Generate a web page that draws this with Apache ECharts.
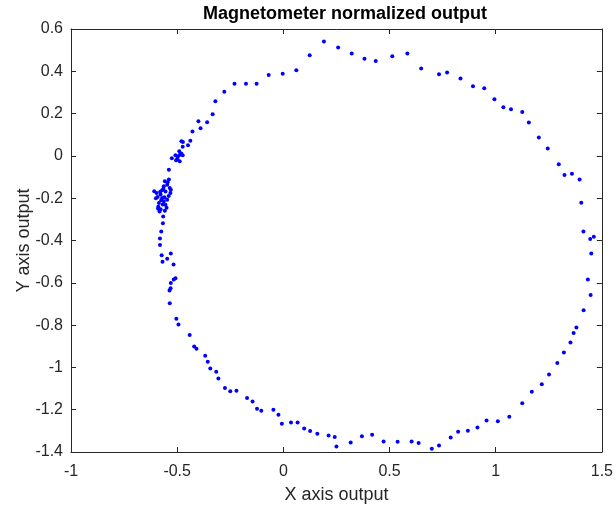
<!DOCTYPE html>
<html>
<head>
<meta charset="utf-8">
<script src="https://cdn.jsdelivr.net/npm/echarts@6/dist/echarts.min.js"></script>
<style>
  html, body { margin: 0; padding: 0; background: #fff; }
  #main { width: 616px; height: 509px; }
</style>
</head>
<body>
<div id="main"></div>
<script>
// 磁力计归一化输出 数据
var xTicks = [-1, -0.5, 0, 0.5, 1, 1.5];
var yTicks = [-1.4, -1.2, -1, -0.8, -0.6, -0.4, -0.2, 0, 0.2, 0.4, 0.6];

var xData = [
  0.191, 0.258, 0.322, 0.382, 0.435, 0.513, 0.584, 0.649, 0.733, 0.771,
  0.834, 0.893, 0.946, 0.994, 1.036, 1.072, 1.125, 1.156, 1.203, 1.245,
  1.297, 1.324, 1.359, 1.395, 1.403, 1.413, 1.445, 1.462, 1.450, 1.434,
  1.447, 1.414, 1.380, 1.367, 1.352, 1.321, 1.290, 1.251, 1.217, 1.170,
  1.125, 1.064, 1.010, 0.957, 0.914, 0.869, 0.823, 0.788, 0.733, 0.699,
  0.637, 0.604, 0.538, 0.472, 0.418, 0.370, 0.317, 0.250, 0.242, 0.213,
  0.160, 0.126, 0.098, 0.067, 0.036, -0.007, -0.023, -0.047, -0.104, -0.124,
  -0.145, -0.171, -0.221, -0.250, -0.275, -0.306, -0.316, -0.344, -0.356, -0.368,
  -0.409, -0.420, -0.441, -0.494, -0.504, -0.535, -0.536, -0.531, -0.530, -0.508,
  -0.516, -0.517, -0.530, -0.547, -0.569, -0.573, -0.581, -0.581, -0.575, -0.567,
  -0.566,
  // 左侧密集点
  -0.539, -0.558, -0.547, -0.563, -0.535, -0.571, -0.555, -0.608, -0.597, -0.532,
  -0.578, -0.592, -0.571, -0.547, -0.563, -0.586, -0.555, -0.589, -0.578, -0.558,
  -0.583, -0.545, -0.565, -0.540, -0.575, -0.550, -0.560, -0.580, -0.530, -0.568,
  -0.600, -0.590,
  -0.539,
  -0.508, -0.496, -0.474, -0.499, -0.488, -0.487, -0.525, -0.490, -0.480, -0.505,
  -0.449, -0.474, -0.480, -0.473, -0.438, -0.428, -0.390, -0.400, -0.359, -0.333,
  -0.320, -0.278, -0.230, -0.176, -0.126, -0.069, -0.003, 0.061, 0.124
];

var yData = [
  0.541, 0.512, 0.484, 0.459, 0.449, 0.471, 0.484, 0.413, 0.386, 0.394,
  0.366, 0.329, 0.320, 0.268, 0.230, 0.220, 0.208, 0.158, 0.087, 0.035,
  -0.040, -0.090, -0.084, -0.112, -0.221, -0.358, -0.393, -0.382, -0.462, -0.584,
  -0.658, -0.730, -0.811, -0.837, -0.882, -0.929, -0.979, -1.033, -1.080, -1.115,
  -1.170, -1.233, -1.255, -1.251, -1.284, -1.299, -1.304, -1.331, -1.369, -1.385,
  -1.358, -1.350, -1.351, -1.350, -1.318, -1.326, -1.355, -1.374, -1.329, -1.322,
  -1.314, -1.301, -1.289, -1.260, -1.260, -1.266, -1.224, -1.200, -1.205, -1.195,
  -1.161, -1.145, -1.110, -1.113, -1.097, -1.052, -1.020, -1.005, -0.973, -0.945,
  -0.912, -0.901, -0.847, -0.797, -0.770, -0.697, -0.636, -0.626, -0.601, -0.579,
  -0.584, -0.513, -0.462, -0.486, -0.500, -0.470, -0.421, -0.390, -0.357, -0.319,
  -0.286,
  -0.112, -0.120, -0.136, -0.144, -0.152, -0.163, -0.168, -0.167, -0.175, -0.175,
  -0.183, -0.194, -0.199, -0.207, -0.215, -0.223, -0.231, -0.240, -0.252, -0.259,
  -0.263, -0.125, -0.155, -0.190, -0.210, -0.245, -0.195, -0.170, -0.160, -0.230,
  -0.200, -0.250,
  -0.066,
  0.003, -0.002, 0.003, -0.014, -0.025, 0.006, -0.011, 0.022, 0.010, -0.020,
  0.050, 0.043, 0.069, 0.066, 0.072, 0.115, 0.131, 0.164, 0.159, 0.197,
  0.258, 0.303, 0.341, 0.341, 0.341, 0.383, 0.389, 0.405, 0.476
];

var points = [];
for (var i = 0; i < xData.length; i++) {
    points.push([xData[i], yData[i]]);
}

var axisColor = '#262626';
var fontFamily = 'Arial, "Liberation Sans", Helvetica, sans-serif';

// 坐标轴公共样式（MATLAB 风格：刻度朝内，四周封闭）
function axisBase(pos, min, max, step) {
    return {
        type: 'value',
        position: pos,
        min: min,
        max: max,
        interval: step,
        axisLine: { onZero: false, lineStyle: { color: axisColor, width: 1 } },
        axisTick: { inside: true, length: 5, lineStyle: { color: axisColor } },
        axisLabel: { show: false },
        splitLine: { show: false }
    };
}

var xMain = axisBase('bottom', xTicks[0], xTicks[xTicks.length - 1], 0.5);
xMain.name = 'X axis output';
xMain.nameLocation = 'middle';
xMain.nameGap = 34;
xMain.nameMoveOverlap = false;
xMain.nameTextStyle = { fontFamily: fontFamily, fontSize: 18, color: axisColor };
xMain.axisLabel = { fontFamily: fontFamily, fontSize: 16, color: axisColor, margin: 12 };

var yMain = axisBase('left', yTicks[0], yTicks[yTicks.length - 1], 0.2);
yMain.name = 'Y axis output';
yMain.nameLocation = 'middle';
yMain.nameGap = 38;
yMain.nameMoveOverlap = false;
yMain.nameTextStyle = { fontFamily: fontFamily, fontSize: 18, color: axisColor };
yMain.axisLabel = { fontFamily: fontFamily, fontSize: 16, color: axisColor, margin: 8,
    formatter: function (v) { return String(Math.round(v * 10) / 10); } };

var myChart = echarts.init(document.getElementById('main'));
var option = {
    backgroundColor: '#fff',
    animation: false,
    title: {
        text: 'Magnetometer normalized output',
        left: 340,
        textAlign: 'center',
        top: 0,
        textStyle: { fontFamily: fontFamily, fontSize: 18, fontWeight: 'bold', color: '#000' }
    },
    grid: { left: 71, right: 9, top: 29, bottom: 57 },
    xAxis: [xMain, axisBase('top', xTicks[0], xTicks[xTicks.length - 1], 0.5)],
    yAxis: [yMain, axisBase('right', yTicks[0], yTicks[yTicks.length - 1], 0.2)],
    series: [{
        type: 'scatter',
        xAxisIndex: 0,
        yAxisIndex: 0,
        symbol: 'circle',
        symbolSize: 4,
        itemStyle: { color: '#0000ff', opacity: 1 },
        data: points
    }]
};
myChart.setOption(option, true);
</script>
</body>
</html>
